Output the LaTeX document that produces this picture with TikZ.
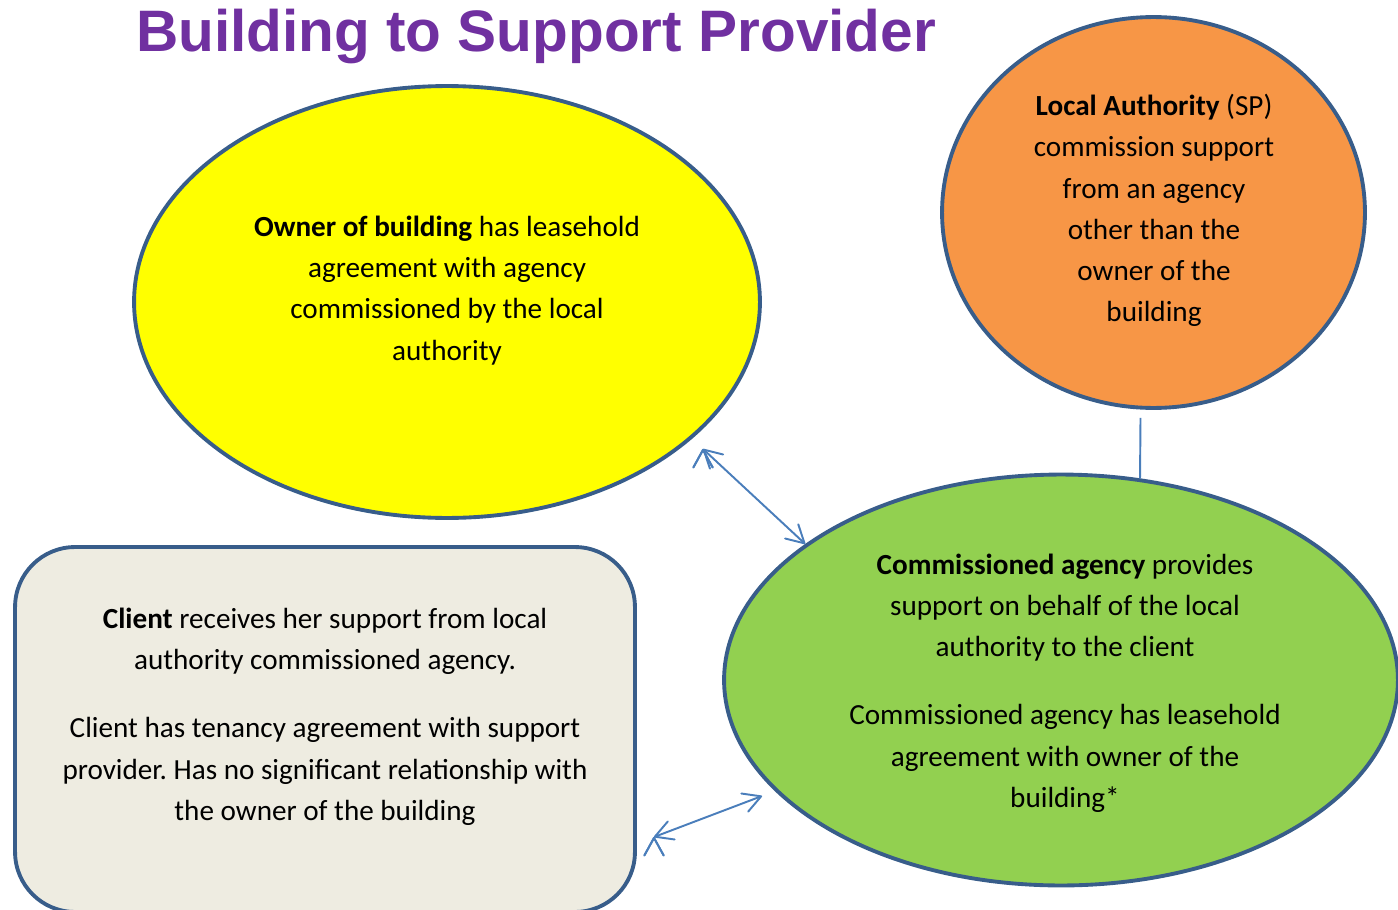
\documentclass[tikz,border=0pt]{standalone}
\usepackage{fontspec}
\setmainfont{Carlito}
\newfontfamily\titlefont{Liberation Sans}
\usepackage{tikz}
\usetikzlibrary{shapes.geometric,arrows.meta}
\frenchspacing

\definecolor{rim}{HTML}{385D8A}
\definecolor{wire}{HTML}{4A7EBB}
\definecolor{titlepurple}{HTML}{7030A0}
\definecolor{ownerfill}{HTML}{FFFF00}
\definecolor{lafill}{HTML}{F79646}
\definecolor{agencyfill}{HTML}{92D050}
\definecolor{clientfill}{HTML}{EEECE1}

% plain open V head
\pgfdeclarearrow{
	name = OpenVee,
	parameters = {\the\pgfarrowlength,\the\pgfarrowwidth},
	setup code = {
		\pgfarrowssettipend{0.5pt}
		\pgfarrowssetlineend{-0.5pt}
		\pgfarrowssetbackend{-\pgfarrowlength}
		\pgfarrowssavethe\pgfarrowlength
		\pgfarrowssavethe\pgfarrowwidth
	},
	drawing code = {
		\pgfsetlinewidth{1.1pt}
		\pgfsetroundjoin
		\pgfsetroundcap
		\pgfsetdash{}{0pt}
		\pgfpathmoveto{\pgfqpoint{-\pgfarrowlength}{0.5\pgfarrowwidth}}
		\pgfpathlineto{\pgfqpoint{0pt}{0pt}}
		\pgfpathlineto{\pgfqpoint{-\pgfarrowlength}{-0.5\pgfarrowwidth}}
		\pgfusepathqstroke
	},
	defaults = {length = 10pt, width = 11pt}
}

\tikzset{
	blob/.style={shape=ellipse, draw=rim, line width=2.2pt, inner sep=0pt},
	words/.style={align=center, font=\fontsize{16.6}{23.45}\selectfont},
	link/.style={draw=wire, line width=1.1pt},
	both/.style={link, {OpenVee}-{OpenVee}},
}

\begin{document}
\begin{tikzpicture}[x=0.02cm,y=0.02cm]
		\useasboundingbox (0,0) rectangle (1398,-909);
		\clip (0,0) rectangle (1398,-909);

		\node[font=\titlefont\bfseries\fontsize{33.3}{40}\selectfont, text=titlepurple, anchor=base] (title) at (536,-52) {Building to Support Provider};

		\node[blob, fill=ownerfill, minimum width=12.52cm, minimum height=8.64cm] (owner) at (447,-302) {};
		\node[blob, fill=lafill, minimum width=8.46cm, minimum height=7.82cm] (la) at (1153.5,-212.5) {};
		\node[blob, fill=agencyfill, minimum width=13.48cm, minimum height=8.22cm] (agency) at (1061,-680) {};
		\node[draw=rim, line width=2.2pt, fill=clientfill, rounded corners=1.2cm, minimum width=12.4cm, minimum height=7.3cm] (client) at (325,-729.5) {};

		\node[words] (ownerText) at (447,-290.5) {\textbf{Owner of building} has leasehold\\ agreement with agency\\ commissioned by the local\\ authority};
		\node[words] (laText) at (1154,-210.5) {\textbf{Local Authority} (SP)\\ commission support\\ from an agency\\ other than the\\ owner of the\\ building};
		\node[words] (agencyText) at (1065,-683) {\textbf{Commissioned agency} provides\\ support on behalf of the local\\ authority to the client\\[15.5pt] Commissioned agency has leasehold\\ agreement with owner of the\\ building*};
		\node[words] (clientText) at (325,-716.5) {\textbf{Client} receives her support from local\\ authority commissioned agency.\\[15.5pt] Client has tenancy agreement with support\\ provider. Has no significant relationship with\\ the owner of the building};

		\coordinate (laFoot) at ([shift={(-13,-8)}]la.south);
		\coordinate (agencyHead) at ([shift={(79,-6)}]agency.north);
		\coordinate (ownerEnd) at (703,-449);
		\coordinate (clientEnd) at (654,-837);
		\coordinate (agencySide) at (762,-796);

		\path [link] (laFoot) edge (agencyHead);
		\path [both] (ownerEnd) edge (agency.152.8);
		\path [both] (clientEnd) edge (agencySide);
	\end{tikzpicture}
\end{document}
